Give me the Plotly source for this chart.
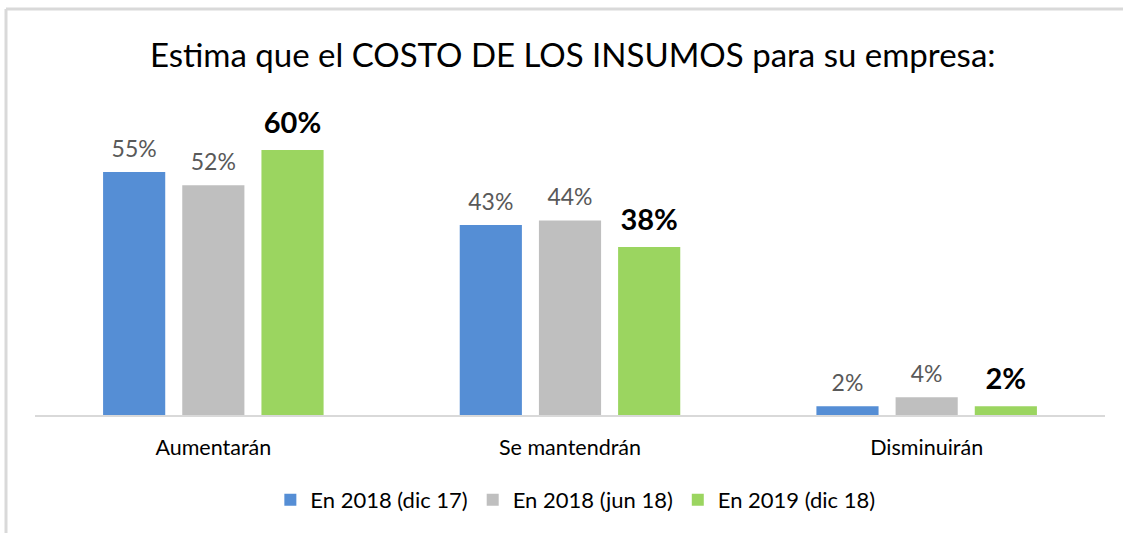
import plotly.graph_objects as go

categories = ["Aumentarán", "Se mantendrán", "Disminuirán"]
series_names = ["En 2018 (dic 17)", "En 2018 (jun 18)", "En 2019 (dic 18)"]
values_dic17 = [55, 43, 2]
values_jun18 = [52, 44, 4]
values_dic18 = [60, 38, 2]

colors = ["#558ed5", "#bfbfbf", "#9bd560"]
FONT = "Lato"

fig = go.Figure()
all_vals = [values_dic17, values_jun18, values_dic18]
for i, (name, vals, col) in enumerate(zip(series_names, all_vals, colors)):
    fig.add_trace(go.Bar(
        x=categories, y=vals, name=name, marker=dict(color=col, line=dict(width=0)),
        offsetgroup=str(i), hoverinfo="skip",
    ))
for i, (name, vals, bold) in enumerate(zip(series_names, all_vals, [False, False, True])):
    fig.add_trace(go.Scatter(
        x=categories, y=vals, mode="markers+text", showlegend=False,
        offsetgroup=str(i),
        marker=dict(size=14, opacity=0),
        text=[f"<b>{v}%</b>" if bold else f"{v}%" for v in vals],
        textposition="top center", cliponaxis=False,
        textfont=dict(family=FONT, size=29 if bold else 23, color="#000000" if bold else "#595959"),
        hoverinfo="skip",
    ))

W, H = 1123, 533
ml, mr, mt, mb = 35, 18, 100, 118
pw, ph = W - ml - mr, H - mt - mb

def px_x(p):
    return (p - ml) / pw

def px_y(p):
    return (H - mb - p) / ph

fig.update_layout(
    width=W, height=H,
    margin=dict(l=ml, r=mr, t=mt, b=mb),
    paper_bgcolor="white", plot_bgcolor="white",
    barmode="group", bargap=0.334, bargroupgap=0.215,
    scattermode="group", scattergap=0.334,
    title=dict(text="Estima que el COSTO DE LOS INSUMOS para su empresa:", x=0.51, xanchor="center",
               y=1 - 55 / H, yanchor="middle", font=dict(family=FONT, size=33, color="#000000")),
    font=dict(family=FONT, color="#000000"),
    xaxis=dict(showline=True, linecolor="#d9d9d9", linewidth=1.5, ticks="", showgrid=False,
               ticklabelstandoff=12,
               tickfont=dict(family=FONT, size=21.5, color="#000000")),
    yaxis=dict(range=[0, 71.3], visible=False, showgrid=False, zeroline=False),
    legend=dict(orientation="h", x=0.505, xanchor="center", y=px_y(500), yanchor="middle",
                font=dict(family=FONT, size=22, color="#000000"), itemwidth=30,
                traceorder="normal"),
    showlegend=True,
    shapes=[
        dict(type="line", xref="paper", yref="paper", x0=px_x(6), x1=px_x(1123), y0=px_y(9), y1=px_y(9),
             line=dict(color="#d9d9d9", width=3)),
        dict(type="line", xref="paper", yref="paper", x0=px_x(6), x1=px_x(6), y0=px_y(9), y1=px_y(533),
             line=dict(color="#d9d9d9", width=3)),
    ],
)

fig.write_html("out.html", config={"displayModeBar": False},
               post_script="document.body.style.margin='0';document.body.style.overflow='hidden';")
